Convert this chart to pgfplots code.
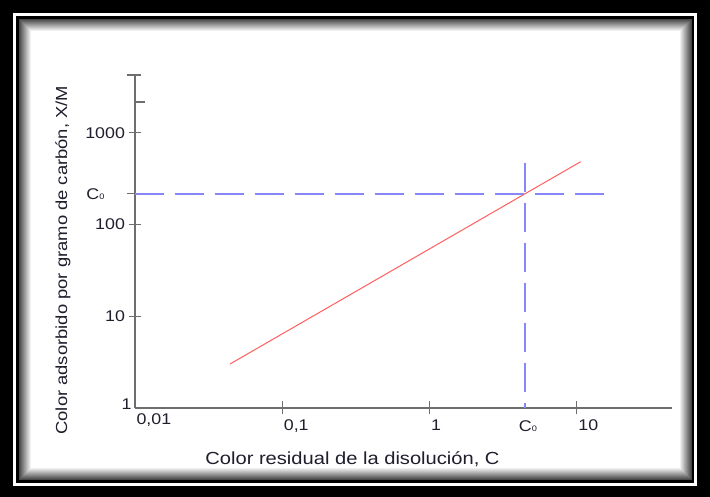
\documentclass[border=0pt]{standalone}
\usepackage{fontspec}
\setmainfont{Liberation Sans}[FakeStretch=1.15]
\usepackage{pgfplots}
\pgfplotsset{compat=1.18}
\definecolor{axgray}{RGB}{110,110,110}
\definecolor{txt}{RGB}{30,30,45}
\definecolor{lred}{RGB}{255,95,95}
\definecolor{lblue}{RGB}{135,135,250}
\newcommand{\Cz}{C{\fontsize{8}{8}\selectfont 0}}
\newcommand{\zzo}{0,01}
\begin{document}
\begin{tikzpicture}[x=1pt,y=1pt]
\useasboundingbox (0,0) rectangle (710,497);
\fill[black] (0,0) rectangle (710,497);
\fill[white] (13,11) rectangle (697,484);
\fill[black] (16,14) rectangle (694,481);
\fill[white] (19,17) rectangle (692,478);
\foreach \i in {0,...,12}{
  \pgfmathsetmacro\c{max(0,72-6*\i)}
  \draw[black!\c, line width=1pt] (19.5+\i,17.5+\i) rectangle (691.5-\i,477.5-\i);
}
\begin{axis}[
  at={(135pt,89pt)}, anchor=south west,
  scale only axis, width=537pt, height=333pt,
  xmode=log, ymode=log,
  xmin=0.01, xmax=44.2, ymin=1, ymax=4278,
  axis x line*=bottom, axis y line*=left,
  axis line style={axgray, line width=1.1pt},
  tick style={axgray, line width=1.1pt},
  tick align=center, major tick length=13pt,
  xminorticks=false, yminorticks=false,
  xtick={0.1,1,10}, xticklabels={{0,1},1,10},
  ytick={10,100,1000}, yticklabels={10,100,1000},
  extra x ticks={0.01}, extra x tick labels={\zzo},
  extra y ticks={1}, extra y tick labels={1},
  extra x tick style={major tick length=0pt},
  extra y tick style={major tick length=0pt, yticklabel style={yshift=4pt}},
  ticklabel style={font=\fontsize{15.5}{18}\selectfont, text=txt},
  xticklabel style={anchor=north west, xshift=-2pt, yshift=-2pt},
  yticklabel style={anchor=east},
  xlabel={Color residual de la disolución, C},
  ylabel={Color adsorbido por gramo de carbón, X/M},
  every axis x label/.style={at={(axis description cs:0.405,-0.171)}, anchor=base, font=\fontsize{17.5}{20}\selectfont, text=txt},
  every axis y label/.style={at={(axis description cs:-0.1266,0.444)}, anchor=base, rotate=90, font=\fontsize{16}{19}\selectfont, text=txt},
  clip=false,
]
\addplot[lred, line width=1pt] coordinates {(0.0442,3.02) (10.6,485)};
\addplot[lblue, line width=1.4pt, dash pattern=on 29pt off 11pt] coordinates {(0.01,216) (15.5,216)};
\addplot[lblue, line width=1.2pt, dash pattern=on 29pt off 11pt] coordinates {(4.44,470) (4.44,1)};
\draw[axgray, line width=1.1pt] ([xshift=-8pt]rel axis cs:0,1) -- ([xshift=6pt]rel axis cs:0,1);
\draw[axgray, line width=1.1pt] (axis cs:0.01,2173) -- ([xshift=10pt]axis cs:0.01,2173);
\draw[axgray, line width=1.1pt] (axis cs:0.01,216) -- ([xshift=-8pt]axis cs:0.01,216);
\node[anchor=east, text=txt, font=\fontsize{15.5}{18}\selectfont] at (axis cs:0.01,216) [xshift=-27pt] {\Cz};
\node[anchor=north, text=txt, font=\fontsize{15.5}{18}\selectfont] at (axis cs:4.44,1) [yshift=-9pt, xshift=3pt] {\Cz};
\end{axis}
\end{tikzpicture}
\end{document}
